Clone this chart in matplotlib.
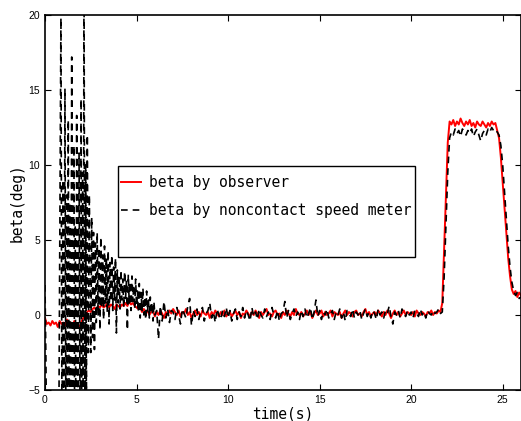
import matplotlib
matplotlib.use("Agg")
import matplotlib.pyplot as plt
import numpy as np
from matplotlib.patches import Rectangle

# observer estimate, sampled every 0.1 s from 0 to 26 s
red_t0, red_dt = 0.0, 0.1
red_beta = [
    -0.2, -0.6, -0.5, -0.7, -0.4, -0.6, -0.5, -0.8, -0.4, -0.6,   # 0
    -0.5, -0.7, -0.3, -0.6, -0.5, -0.8, -0.4, -0.7, -0.6, -0.9,   # 1
    -0.4, -0.2, 0.0, 0.2, 0.3, 0.2, 0.4, 0.5, 0.3, 0.6,           # 2
    0.5, 0.7, 0.5, 0.6, 0.8, 0.5, 0.7, 0.6, 0.4, 0.7,             # 3
    0.6, 0.5, 0.7, 0.6, 0.8, 0.6, 0.9, 0.7, 0.8, 0.6,             # 4
    0.5, 0.4, 0.5, 0.2, 0.4, 0.1, 0.3, 0.0, 0.2, 0.3,             # 5
    -0.1, 0.2, 0.0, 0.3, 0.1, -0.2, 0.2, 0.0, 0.3, 0.1,           # 6
    0.4, 0.2, 0.0, 0.3, -0.1, 0.2, 0.1, 0.4, 0.0, 0.2,            # 7
    -0.2, 0.1, 0.3, 0.0, 0.2, -0.1, 0.3, 0.1, 0.0, 0.2,           # 8
    -0.2, 0.2, 0.0, 0.3, 0.1, -0.1, 0.2, 0.0, 0.3, -0.1,          # 9
    0.1, 0.2, -0.1, 0.1, 0.3, 0.0, 0.2, -0.2, 0.1, 0.0,           # 10
    0.3, 0.1, -0.1, 0.2, 0.0, 0.3, 0.1, -0.2, 0.2, 0.0,           # 11
    0.2, 0.4, 0.0, 0.1, -0.1, 0.2, 0.3, 0.0, 0.1, -0.2,           # 12
    0.2, 0.0, 0.3, 0.1, -0.1, 0.2, 0.0, 0.4, 0.1, 0.0,            # 13
    0.2, -0.1, 0.1, 0.3, 0.0, 0.2, -0.2, 0.1, 0.3, 0.0,           # 14
    0.1, 0.3, -0.1, 0.2, 0.0, 0.1, 0.3, -0.1, 0.2, 0.1,           # 15
    0.0, 0.2, -0.2, 0.1, 0.3, 0.0, 0.2, 0.1, -0.1, 0.2,           # 16
    0.3, 0.0, 0.1, -0.1, 0.2, 0.4, 0.0, 0.2, -0.1, 0.1,           # 17
    0.2, 0.0, 0.3, 0.1, -0.1, 0.2, 0.0, 0.3, 0.1, -0.2,           # 18
    0.1, 0.3, 0.0, 0.2, -0.1, 0.1, 0.3, 0.0, 0.2, 0.1,            # 19
    0.0, 0.2, -0.1, 0.3, 0.1, 0.0, 0.2, 0.1, -0.1, 0.2,           # 20
    0.1, 0.3, 0.0, 0.2, 0.1, 0.3, 0.2, 0.8, 4.3, 8.0,             # 21
    11.5, 12.9, 12.7, 13.0, 12.6, 12.9, 12.7, 13.1, 12.8, 12.6,   # 22
    12.9, 12.7, 13.0, 12.6, 12.8, 12.5, 12.9, 12.7, 12.6, 12.9,   # 23
    12.7, 12.5, 12.8, 12.6, 12.9, 12.7, 12.8, 12.3, 11.8, 10.5,   # 24
    8.8, 7.0, 5.4, 3.8, 2.6, 1.7, 1.4, 1.6, 1.2, 1.5,             # 25
    1.3,
]

# noncontact speed meter, 0-6 s: turning points
black_early_t = [
    0.00, 0.05, 0.10, 0.70, 0.75, 0.87, 0.93, 0.98, 1.03, 1.09,
    1.14, 1.18, 1.22, 1.27, 1.32, 1.36, 1.41, 1.46, 1.52, 1.58,
    1.62, 1.65, 1.69, 1.73, 1.80, 1.86, 1.92, 1.97, 2.01, 2.05,
    2.09, 2.13, 2.18, 2.22, 2.26, 2.31, 2.37, 2.42,
    2.50, 2.55, 2.60, 2.65, 2.70, 2.75, 2.80, 2.85, 2.90, 2.95,
    3.00, 3.05, 3.10, 3.15, 3.20, 3.25, 3.30, 3.35, 3.40, 3.45,
    3.50, 3.55, 3.60, 3.65, 3.70, 3.75, 3.80, 3.85, 3.90, 3.95,
    4.00, 4.05, 4.10, 4.15, 4.20, 4.25, 4.30, 4.35, 4.40, 4.45,
    4.50, 4.55, 4.60, 4.65, 4.70, 4.75, 4.80, 4.85, 4.90, 4.95,
    5.00, 5.05, 5.10, 5.15, 5.20, 5.25, 5.30, 5.35, 5.40, 5.45,
    5.50, 5.55, 5.60, 5.65, 5.70, 5.75, 5.80, 5.85, 5.90, 5.95,
    6.00,
]
black_early = [
    2.0, -3.0, -10.0, -10.0, -9.0, 19.8, -9.0, 9.0, -9.0, 15.1,
    -7.0, 8.0, -9.0, 13.0, -9.0, 7.5, -9.0, 17.2, -9.0, 11.3,
    -8.0, 6.0, -9.0, 13.3, -9.0, 10.8, -9.0, 14.4, -8.0, 9.5,
    -9.0, 24.0, -8.0, 10.0, -6.0, 12.0, -2.5, 8.0,
    -2.5, 6.5, -1.5, 5.5, -2.3, 4.8, -0.5, 5.5, 0.0, 4.5,
    -1.0, 5.2, 0.5, 4.0, -0.3, 4.6, 0.8, 3.8, 0.2, 4.3,
    -0.6, 3.5, 0.9, 4.0, 0.3, 3.2, 1.0, 3.8, -1.2, 3.0,
    0.8, 2.6, 0.4, 3.0, 1.0, 2.4, 0.5, 2.9, 1.1, 2.3,
    -1.0, 2.7, 0.8, 2.2, 0.3, 2.6, 0.9, 2.0, 0.4, 2.4,
    0.6, 1.6, 0.2, 2.1, -0.2, 1.5, 0.3, 1.8, 0.0, 1.2,
    -0.3, 1.6, 0.2, 1.0, -0.2, 1.2, 0.1, 0.8, -0.4, 0.9,
    0.0,
]

# noncontact speed meter, 6.1-26 s every 0.1 s
black_late_t0, black_late_dt = 6.1, 0.1
black_late = [
    0.3, -1.6, 0.6, -0.4, 0.9, -0.2, 0.4, -0.5, 0.3,              # 6.1
    0.2, -0.3, 0.5, 0.0, -0.6, 0.4, 0.1, -0.2, 0.6, 1.1,          # 7
    -0.7, 0.3, -0.1, 0.4, -0.3, 0.2, 0.5, -0.4, 0.1, 0.3,         # 8
    0.8, -0.2, 0.2, -0.5, 0.4, 0.0, -0.3, 0.3, -0.1, 0.5,         # 9
    -0.2, 0.3, -0.4, 0.1, 0.4, -0.3, 0.2, -0.1, 0.5, -0.2,        # 10
    0.3, 0.0, -0.4, 0.5, -0.1, 0.2, -0.3, 0.4, 0.0, -0.2,         # 11
    0.4, -0.1, 0.2, -0.3, 0.5, 0.0, -0.2, 0.3, -0.4, 0.1,         # 12
    0.2, 0.9, -0.2, 0.3, -0.3, 0.1, 0.4, -0.1, 0.2, -0.3,         # 13
    0.3, -0.1, 0.4, -0.2, 0.1, 0.5, -0.3, 0.2, 1.0, -0.1,         # 14
    0.3, -0.3, 0.2, 0.0, 0.4, -0.2, 0.1, 0.3, -0.3, 0.2,          # 15
    0.0, 0.4, -0.2, 0.2, -0.4, 0.3, 0.1, -0.1, 0.4, -0.2,         # 16
    0.2, 0.0, 0.3, -0.3, 0.1, 0.4, -0.1, 0.2, -0.2, 0.3,          # 17
    0.1, -0.3, 0.4, 0.0, 0.2, -0.2, 0.3, 0.1, 0.6, -0.1,          # 18
    -0.6, 0.2, 0.0, 0.3, -0.2, 0.4, 0.1, -0.1, 0.3, 0.0,          # 19
    0.2, -0.2, 0.3, 0.1, -0.1, 0.4, 0.0, 0.2, -0.2, 0.3,          # 20
    0.1, 0.0, 0.3, 0.1, 0.2, 0.4, 0.1, 0.2, 2.5, 6.0,             # 21
    9.5, 11.8, 12.2, 12.0, 12.4, 12.1, 12.3, 11.9, 12.4, 12.2,    # 22
    12.0, 12.3, 12.1, 12.4, 11.9, 12.2, 12.4, 12.0, 11.6, 12.1,   # 23
    12.3, 12.0, 12.4, 12.2, 12.5, 12.3, 12.4, 12.2, 12.0, 11.3,   # 24
    10.0, 8.2, 6.3, 4.6, 3.2, 2.2, 1.6, 1.3, 1.5, 1.1,            # 25
    1.2,
]

x_ticks = [0, 5, 10, 15, 20, 25]
y_ticks = [-5, 0, 5, 10, 15, 20]


def series_time(t0, dt, values):
    return t0 + dt * np.arange(len(values))


red_t = series_time(red_t0, red_dt, red_beta)
black_t = np.concatenate([black_early_t,
                          series_time(black_late_t0, black_late_dt, black_late)])
black_beta = np.concatenate([black_early, black_late])

fig = plt.figure(figsize=(5.21, 4.21), dpi=100)
ax = fig.add_axes([45 / 521, 31 / 421, 476 / 521, 375 / 421])

ax.plot(red_t, red_beta, color="red", lw=1.4, label="beta by observer")
ax.plot(black_t, black_beta, color="black", lw=1.2, linestyle=(0, (4, 3)),
        label="beta by noncontact speed meter")

ax.set_xlim(0, 26)
ax.set_ylim(-5, 20)
ax.set_xticks(x_ticks)
ax.set_yticks(y_ticks)
ax.tick_params(direction="in", top=True, right=True, length=4, width=0.8,
               labelsize=7.5)
for lab in ax.get_xticklabels() + ax.get_yticklabels():
    lab.set_family("Liberation Sans")
for sp in ax.spines.values():
    sp.set_linewidth(1.2)

mono = "DejaVu Sans Mono"
ax.set_xlabel("time(s)", family=mono, fontsize=10.5, labelpad=1)
ax.set_ylabel("beta(deg)", family=mono, fontsize=10.5, labelpad=3)

# legend frame drawn separately so its size matches the original box
ax.add_patch(Rectangle((0.1534, 0.3547), 0.777 - 0.1534, 0.5973 - 0.3547,
                       transform=ax.transAxes, facecolor="white",
                       edgecolor="black", lw=1.0, zorder=4))
leg = ax.legend(loc="upper left", bbox_to_anchor=(0.1534, 0.58),
                frameon=False, prop={"family": mono, "size": 10.5},
                handlelength=1.4, handletextpad=0.5, labelspacing=0.85,
                borderpad=0.2, borderaxespad=0.0)
leg.set_zorder(5)

fig.savefig("out.png", dpi=100)
